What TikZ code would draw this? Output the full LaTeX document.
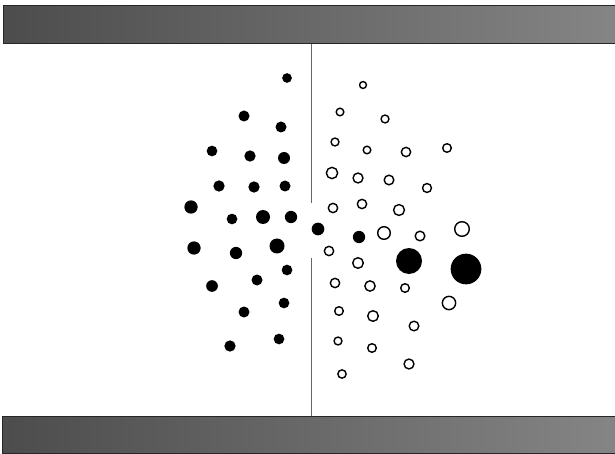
\documentclass[tikz,border=0pt]{standalone}
\usepackage{xcolor}
\usepackage{tikz}
\usetikzlibrary{positioning}
\tikzset{
  band/.style={draw=black!85, line width=0.8pt, left color=black!70,
    right color=black!48, inner sep=0pt},
  ball/.style={circle, fill=black, draw=none, inner sep=0pt},
  ring/.style={circle, draw=black, line width=1.4pt, fill=white, inner sep=0pt},
  wall/.style={draw=black!60, line width=1pt}
}
\begin{document}
\begin{tikzpicture}[x=1pt, y=-1pt]
\useasboundingbox (0,0) rectangle (615,454);

\node[band, anchor=north west, minimum width=612pt, minimum height=38pt] (top) at (3,5) {};
\node[band, anchor=north west, minimum width=613pt, minimum height=37pt] (bot) at (2,416) {};

\coordinate (gapa) at (311,203);
\coordinate (gapb) at (311,258);
\draw[wall] (top.south -| gapa) -- (gapa);
\draw[wall] (gapb) -- (bot.north -| gapb);

% filled particles
\foreach \x/\y/\d [count=\i] in {287/78/9.7, 244/116/11, 281/127/11, 212/151/10.7,
    250/156/11.3, 284/158/12, 219/186/11.3, 254/187/11.3, 285/186/11,
    191/207/13.3, 232/219/10.7, 263/217/14, 291/217/12.3, 318/229/12.7,
    194/248/13.3, 236/253/12.3, 277/246/15, 287/270/10.7, 212/286/11.7,
    257/280/11, 284/303/10.7, 244/312/11, 230/346/11.3, 279/339/10.7,
    359/237/12.3, 409/261/26, 466/269/30.7}
  \node[ball, minimum size=\d pt] (b\i) at (\x,\y) {};

% open particles
\foreach \x/\y/\d [count=\i] in {363/85/8.3, 340/112/9, 385/119/9.3, 335/142/9.3,
    367/150/9, 406/152/10.7, 447/148/10, 332/173/12.7, 358/178/11.3,
    389/180/11, 427/188/10.3, 333/208/10.7, 362/204/10.7, 399/210/12.3,
    384/233/14, 420/236/11, 462/229/16, 329/251/10.7, 358/263/12,
    335/283/10.7, 370/286/11.7, 405/288/10, 449/303/14.7, 339/311/10,
    373/316/12, 414/326/11, 338/341/9.3, 372/348/10, 409/364/11.3, 342/374/9.7}
  \node[ring, minimum size={(\d-1.4)*1pt}] (o\i) at (\x,\y) {};
\end{tikzpicture}
\end{document}
